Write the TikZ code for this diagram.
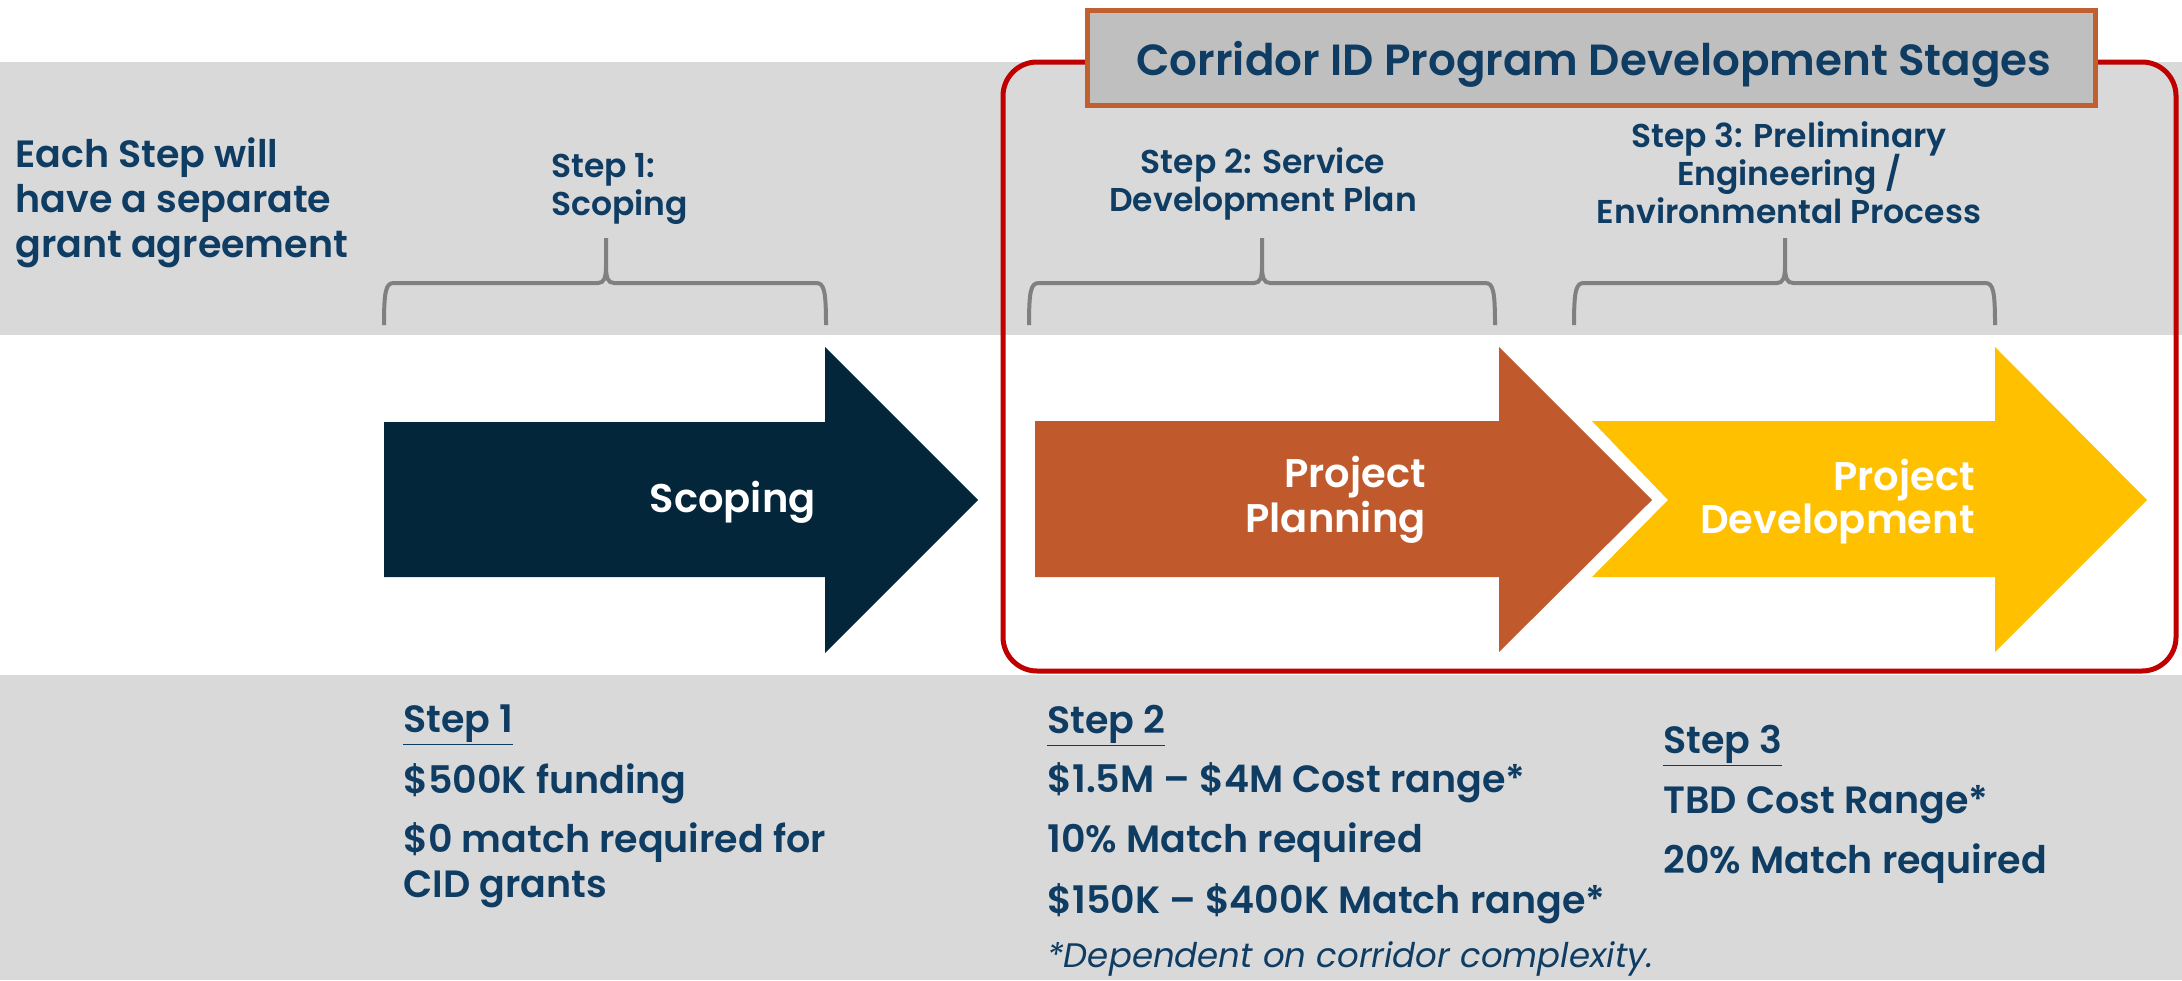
\documentclass[tikz,border=0pt]{standalone}
\usepackage{fontspec}
\setmainfont{Poppins}[BoldFont={* SemiBold}]
\definecolor{navy}{HTML}{0F3C62}
\definecolor{darkarrow}{HTML}{03263A}
\definecolor{orangec}{HTML}{C05A2C}
\definecolor{yellowc}{HTML}{FFC000}
\definecolor{redb}{HTML}{C00000}
\definecolor{lgray}{HTML}{D9D9D9}
\definecolor{tgray}{HTML}{BFBFBF}
\definecolor{bracec}{HTML}{808080}
\definecolor{titleborder}{HTML}{C0602E}
\tikzset{
  lbl/.style={inner sep=0pt, text=navy, anchor=base, font=\bfseries\fontsize{16.5}{19}\selectfont},
  lblw/.style={lbl, anchor=base west},
  body/.style={inner sep=0pt, text=navy, anchor=base west, font=\bfseries\fontsize{19}{22}\selectfont},
  note/.style={inner sep=0pt, text=navy, anchor=base west, font=\itshape\fontsize{17}{20}\selectfont},
  arrtxt/.style={inner sep=0pt, text=white, anchor=base east, font=\bfseries\fontsize{20}{24}\selectfont},
  titletext/.style={inner sep=0pt, text=navy, anchor=base, font=\bfseries\fontsize{21.8}{26}\selectfont},
  bracestyle/.style={draw=bracec, line width=2pt},
}
\newcommand\gbrace[3]{%
  \draw[bracestyle] (#1,325) .. controls (#1,290) and (#1+2,283) .. (#1+10,283) -- (#2-8,283)
    .. controls (#2-2,283) and (#2,278) .. (#2,266) -- (#2,238) -- (#2,266)
    .. controls (#2,278) and (#2+2,283) .. (#2+8,283) -- (#3-10,283)
    .. controls (#3-2,283) and (#3,290) .. (#3,325);}
\begin{document}
\begin{tikzpicture}[x=0.5pt,y=-0.5pt]
\useasboundingbox (0,0) rectangle (2182,980);
% background bands
\fill[lgray] (0,62) rectangle (2182,335);
\fill[lgray] (0,675) rectangle (2182,980);
% red frame
\draw[redb, line width=2.5pt, rounded corners=17pt] (1003,62) rectangle (2176,671);
% title box
\draw[titleborder, fill=tgray, line width=2.5pt] (1087.5,10.5) rectangle (2095.5,105.5);
\node[titletext] (title) at (1594,75) {Corridor ID Program Development Stages};
% left text
\node[body] (each1) at (15,167) {Each Step will};
\node[body] (each2) at (15,212) {have a separate};
\node[body] (each3) at (15,257) {grant agreement};
% top labels
\node[lblw] (s1a) at (551,177) {Step 1:};
\node[lblw] (s1b) at (551,215) {Scoping};
\node[lbl] (s2a) at (1263,173) {Step 2: Service};
\node[lbl] (s2b) at (1263,211) {Development Plan};
\node[lbl] (s3a) at (1789,147) {Step 3: Preliminary};
\node[lbl] (s3b) at (1789,185) {Engineering /};
\node[lbl] (s3c) at (1789,223) {Environmental Process};
% braces
\gbrace{384}{606}{826}
\gbrace{1029}{1262}{1495}
\gbrace{1574}{1785}{1995}
% arrows
\fill[darkarrow] (384,422) -- (825,422) -- (825,347) -- (978,500) -- (825,653) -- (825,577) -- (384,577) -- cycle;
\fill[orangec] (1035,421) -- (1499,421) -- (1499,347) -- (1652,500) -- (1499,652) -- (1499,577) -- (1035,577) -- cycle;
\fill[yellowc] (1592,421) -- (1995,421) -- (1995,347) -- (2147,500) -- (1995,652) -- (1995,577) -- (1592,577) -- (1668,500) -- cycle;
\node[arrtxt] (scop) at (816,512) {Scoping};
\node[arrtxt] (pp1) at (1426,487) {Project};
\node[arrtxt] (pp2) at (1426,532) {Planning};
\node[arrtxt] (pd1) at (1975,490) {Project};
\node[arrtxt] (pd2) at (1975,533) {Development};
% bottom text step 1
\node[body] (b1a) at (403,732) {\underline{Step 1}};
\node[body] (b1b) at (403,793) {\$500K funding};
\node[body] (b1c) at (403,852) {\$0 match required for};
\node[body] (b1d) at (403,897) {CID grants};
% step 2
\node[body] (b2a) at (1047,733) {\underline{Step 2}};
\node[body] (b2b) at (1047,792) {\$1.5M – \$4M Cost range*};
\node[body] (b2c) at (1047,852) {10\% Match required};
\node[body] (b2d) at (1047,913) {\$150K – \$400K Match range*};
\node[note] (b2e) at (1047,967) {*Dependent on corridor complexity.};
% step 3
\node[body] (b3a) at (1663,753) {\underline{Step 3}};
\node[body] (b3b) at (1663,813) {TBD Cost Range*};
\node[body] (b3c) at (1663,873) {20\% Match required};
\end{tikzpicture}
\end{document}
